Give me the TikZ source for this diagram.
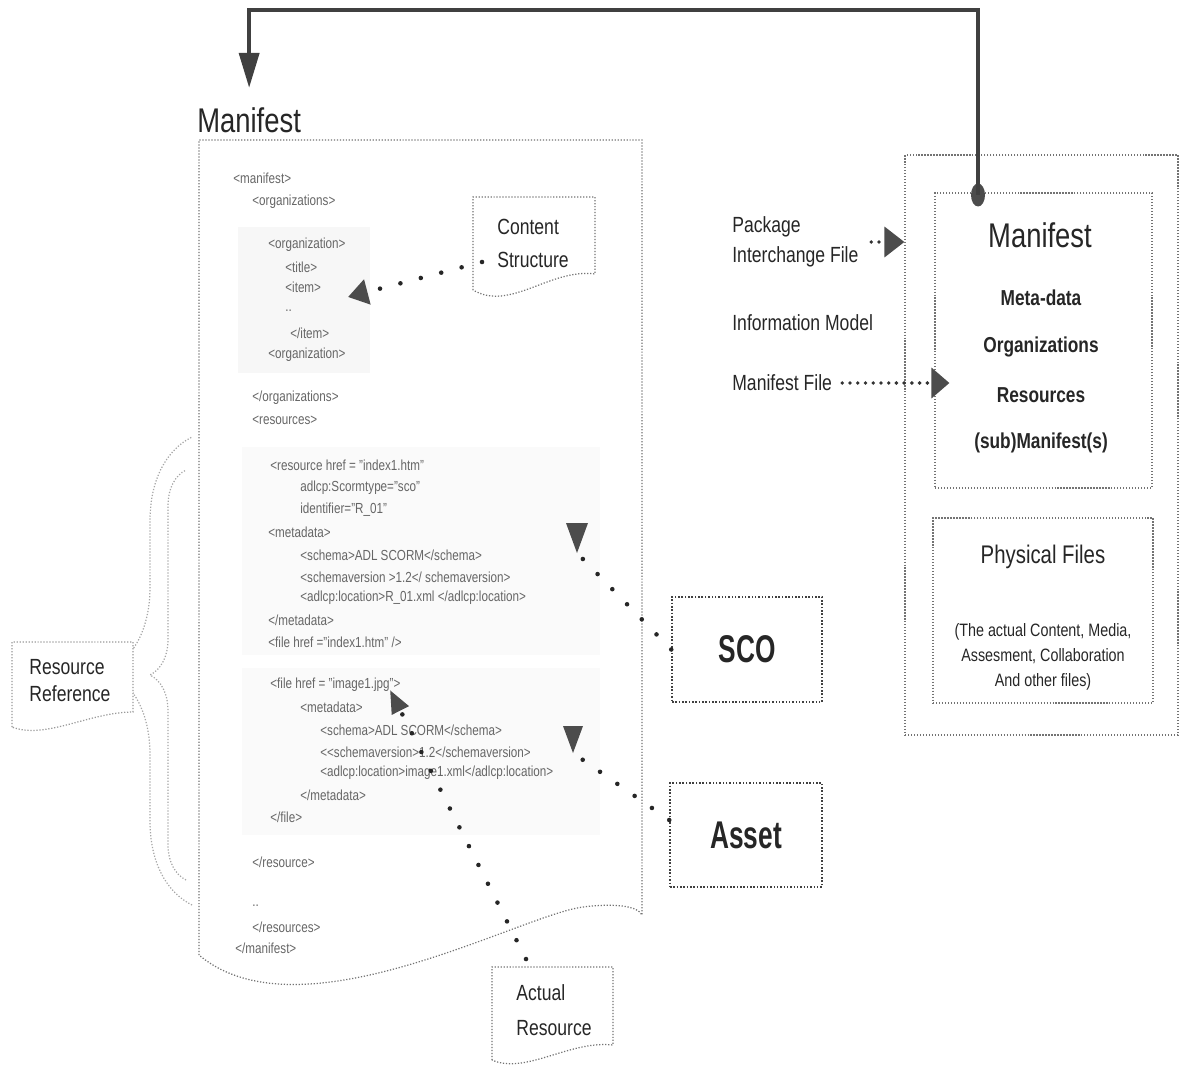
\documentclass[tikz,border=0pt]{standalone}
\usepackage{fontspec}
\setmainfont{Liberation Sans}[FakeStretch=0.8]
\newfontfamily\narrowfont{Liberation Sans}[FakeStretch=0.68]
\usetikzlibrary{arrows.meta,shapes.geometric,decorations.pathreplacing}

\begin{document}
\begin{tikzpicture}[x=0.02cm,y=-0.02cm,
    xml/.style={anchor=west,inner sep=0pt,text=black!60,font=\fontsize{8.3}{10}\selectfont},
    note/.style={align=left,inner sep=0pt,text=black!85,font=\fontsize{12.5}{17}\selectfont},
    entry/.style={inner sep=0pt,text=black!85,font=\bfseries\fontsize{12.3}{14}\selectfont},
    dotframe/.style={draw=black!55,densely dotted,line width=0.7pt},
    bigbox/.style={dotframe,draw=black!75,line width=0.9pt,text=black!85,font=\narrowfont\bfseries\fontsize{22}{26}\selectfont},
    dotlink/.style={black!85,line width=2.6pt,line cap=round,dash pattern=on 0pt off 12pt},
    finedots/.style={black!80,line width=2.2pt,line cap=round,dash pattern=on 0pt off 4.4pt},
    tiphead/.style={fill=black!70},
    mainlink/.style={black!75,line width=2.2pt}]
\useasboundingbox (0,0) rectangle (1189,1067);

% shaded groups behind the listing
\fill[black!3] (238,227) rectangle (370,373);
\fill[black!2] (242,447) rectangle (600,655);
\fill[black!2] (242,668) rectangle (600,835);

% the manifest document
\draw[dotframe] (199,955) -- (199,140) -- (642,140) -- (642,915)
    .. controls (638,906) and (615,903) .. (583,907)
    .. controls (520,915) and (300,1040) .. (199,955);
\node[anchor=base west,inner sep=0pt,text=black!85,font=\fontsize{19.5}{23}\selectfont] (title) at (197,133) {Manifest};

\node[xml] (c1) at (233,178) {<manifest>};
\node[xml] (c2) at (252,202) {<organizations>};
\node[xml] (c3) at (268,245) {<organization>};
\node[xml] (c4) at (285,267) {<title>};
\node[xml] (c5) at (285,287) {<item>};
\node[xml] (c6) at (285,311) {..};
\node[xml] (c7) at (290,333) {</item>};
\node[xml] (c8) at (268,355) {<organization>};
\node[xml] (c9) at (252,398) {</organizations>};
\node[xml] (c10) at (252,420) {<resources>};
\node[xml] (c11) at (270,465) {<resource href = "index1.htm"};
\node[xml] (c12) at (300,488) {adlcp:Scormtype="sco"};
\node[xml] (c13) at (300,510) {identifier="R\_01"};
\node[xml] (c14) at (268,532) {<metadata>};
\node[xml] (c15) at (300,555) {<schema>ADL SCORM</schema>};
\node[xml] (c16) at (300,577) {<schemaversion >1.2</ schemaversion>};
\node[xml] (c17) at (300,598) {<adlcp:location>R\_01.xml </adlcp:location>};
\node[xml] (c18) at (268,620) {</metadata>};
\node[xml] (c19) at (268,642) {<file href ="index1.htm" />};
\node[xml] (c20) at (270,685) {<file href = "image1.jpg">};
\node[xml] (c21) at (300,707) {<metadata>};
\node[xml] (c22) at (320,730) {<schema>ADL SCORM</schema>};
\node[xml] (c23) at (320,752) {<{}<schemaversion>1.2</schemaversion>};
\node[xml] (c24) at (320,773) {<adlcp:location>image1.xml</adlcp:location>};
\node[xml] (c25) at (300,795) {</metadata>};
\node[xml] (c26) at (270,817) {</file>};
\node[xml] (c27) at (252,862) {</resource>};
\node[xml] (c28) at (252,906) {..};
\node[xml] (c29) at (252,927) {</resources>};
\node[xml] (c30) at (235,948) {</manifest>};

% content structure callout
\draw[dotframe] (473,290) -- (473,197) -- (595,197) -- (595,274)
    .. controls (550,268) and (510,312) .. (473,290);
\node[note,font=\fontsize{12.5}{18.8}\selectfont] (cs) at (533,243) {Content\\Structure};
\coordinate (orgtip) at (348,297);
\draw[dotlink,-{Triangle[length=0.4cm,width=0.5cm,fill=black!70,color=black!70]}]
    ([xshift=-0.3cm,yshift=-0.38cm]cs.west) -- (orgtip);

% resource reference brace
\draw[black!35,densely dotted,line width=0.7pt,decorate,decoration={brace,amplitude=1.68cm}] (192,905) -- (192,437);
\draw[black!35,densely dotted,line width=0.7pt,decorate,decoration={brace,amplitude=0.72cm}] (186,880) -- (186,470);
\draw[dotframe,draw=black!40,fill=white] (12,727) -- (12,642) -- (133,642) -- (133,712)
    .. controls (90,712) and (45,740) .. (12,727);
\node[note,font=\fontsize{12.5}{15.4}\selectfont] (rref) at (70,681) {Resource\\Reference};

% actual resource callout
\draw[dotframe] (492,1060) -- (492,967) -- (613,967) -- (613,1045)
    .. controls (570,1040) and (525,1075) .. (492,1060);
\node[note,font=\fontsize{12.5}{20}\selectfont] (act) at (554,1010) {Actual\\Resource};
\coordinate (imgtip) at (390,690);
\draw[dotlink,-{Triangle[length=0.46cm,width=0.36cm,fill=black!70,color=black!70]}]
    ([xshift=-0.56cm,yshift=0.5cm]act.north) -- (imgtip);

% sco and asset
\node[bigbox,minimum width=3cm,minimum height=2.1cm] (sco) at (747,649.5) {SCO};
\node[bigbox,minimum width=3.04cm,minimum height=2.08cm] (asset) at (746,835) {Asset};
\coordinate (scotip) at (577,553);
\draw[dotlink] (sco.west) -- (scotip);
\fill[tiphead] (scotip) -- ++(-11,-30) -- ++(22,0) -- cycle;
\coordinate (assettip) at (573,753);
\draw[dotlink] ([yshift=0.3cm]asset.west) -- (assettip);
\fill[tiphead] (assettip) -- ++(-10,-27) -- ++(20,0) -- cycle;

% package interchange file
\node[note,anchor=west] (pif) at (732,242) {Package\\Interchange File};
\node[note,anchor=west] (im) at (732,323) {Information Model};
\node[note,anchor=west] (mf) at (732,383) {Manifest File};

\node[dotframe,minimum width=5.46cm,minimum height=11.6cm] (pkg) at (1041.5,445) {};
\node[dotframe,minimum width=4.34cm,minimum height=5.9cm] (manbox) at (1043.5,340.5) {};
\node[dotframe,minimum width=4.4cm,minimum height=3.7cm] (physbox) at (1043,610.5) {};

\node[inner sep=0pt,text=black!85,font=\fontsize{19.5}{23}\selectfont] (mhead) at (1040,235) {Manifest};
\node[entry] (meta) at (1041,298) {Meta-data};
\node[entry] (orgs) at (1041,347) {Organizations};
\node[entry] (res) at (1041,395) {Resources};
\node[entry] (sub) at (1041,443) {(sub)Manifest(s)};
\node[inner sep=0pt,text=black!85,font=\fontsize{14.5}{18}\selectfont] (phys) at (1043,557) {Physical Files};
\node[align=center,inner sep=0pt,text=black!85,font=\fontsize{10.2}{14.2}\selectfont] (physnote) at (1043,657)
    {(The actual Content, Media,\\Assesment, Collaboration\\And other files)};

\draw[finedots,-{Triangle[length=0.4cm,width=0.6cm,fill=black!70,color=black!70]}]
    ([xshift=0.25cm]pif.east) -- (pif.east -| pkg.west);
\draw[finedots,-{Triangle[length=0.36cm,width=0.6cm,fill=black!70,color=black!70]}]
    ([xshift=0.2cm]mf.east) -- ([xshift=0.3cm]mf.east -| manbox.west);

% link back to the manifest
\node[ellipse,fill=black!70,inner sep=0pt,minimum width=0.28cm,minimum height=0.46cm] (mandot) at (978,195) {};
\coordinate (ridge) at (600,10);
\draw[mainlink,-{Triangle[length=0.7cm,width=0.4cm]}]
    (mandot.center) -- (mandot |- ridge) -| ([yshift=0.4cm]title.north);
\end{tikzpicture}
\end{document}
